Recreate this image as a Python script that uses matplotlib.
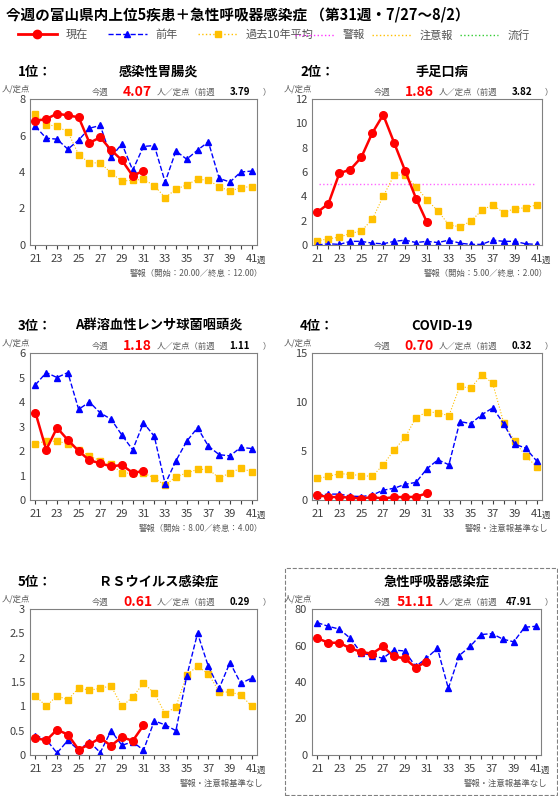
import matplotlib
matplotlib.use('Agg')
import matplotlib.pyplot as plt
from matplotlib.lines import Line2D
from matplotlib.patches import Rectangle

plt.rcParams['font.family'] = ['Noto Sans CJK JP', 'DejaVu Sans']

weeks = list(range(21, 42))
cur_weeks = list(range(21, 32))

titles = ['感染性胃腸炎', '手足口病', 'A群溶血性レンサ球菌咽頭炎', 'COVID-19', 'ＲＳウイルス感染症', '急性呼吸器感染症']
ranks = ['1位：', '2位：', '3位：', '4位：', '5位：', '']
this_week = ['4.07', '1.86', '1.18', '0.70', '0.61', '51.11']
last_week = ['3.79', '3.82', '1.11', '0.32', '0.29', '47.91']
notes = ['警報（開始：20.00／終息：12.00）', '警報（開始：5.00／終息：2.00）', '警報（開始：8.00／終息：4.00）',
         '警報・注意報基準なし', '警報・注意報基準なし', '警報・注意報基準なし']
ymax = [8, 12, 6, 15, 3, 80]
ystep = [2, 2, 1, 5, 0.5, 20]
alarm = [None, 5.0, None, None, None, None]

cur = [
    [6.8, 6.9, 7.2, 7.1, 7.0, 5.6, 5.9, 5.2, 4.65, 3.79, 4.07],
    [2.7, 3.4, 5.9, 6.2, 7.2, 9.2, 10.7, 8.4, 6.1, 3.82, 1.86],
    [3.57, 2.05, 2.95, 2.45, 2.0, 1.62, 1.5, 1.37, 1.43, 1.11, 1.18],
    [0.5, 0.3, 0.3, 0.25, 0.15, 0.3, 0.15, 0.3, 0.3, 0.32, 0.70],
    [0.35, 0.3, 0.52, 0.42, 0.11, 0.22, 0.35, 0.19, 0.37, 0.29, 0.61],
    [64, 61.5, 61.5, 58.5, 56.5, 55.5, 59.5, 54, 53, 47.91, 51.11],
]
prev = [
    [6.5, 5.85, 5.8, 5.25, 5.75, 6.4, 6.55, 4.8, 5.55, 4.1, 5.4, 5.45, 3.45, 5.15, 4.7, 5.2, 5.65, 3.65, 3.45, 4.0, 4.05],
    [0.0, 0.1, 0.05, 0.3, 0.3, 0.15, 0.1, 0.3, 0.4, 0.2, 0.3, 0.2, 0.4, 0.15, 0.05, 0.05, 0.4, 0.3, 0.3, 0.1, 0.05],
    [4.7, 5.2, 5.0, 5.2, 3.7, 4.0, 3.55, 3.3, 2.65, 2.05, 3.15, 2.6, 0.65, 1.6, 2.4, 2.95, 2.2, 1.85, 1.8, 2.15, 2.1],
    [0.5, 0.6, 0.6, 0.4, 0.35, 0.5, 1.0, 1.2, 1.6, 1.8, 3.2, 4.1, 3.6, 8.0, 7.8, 8.7, 9.4, 7.8, 5.7, 5.3, 4.0],
    [0.4, 0.32, 0.04, 0.3, 0.1, 0.27, 0.05, 0.5, 0.2, 0.27, 0.1, 0.7, 0.62, 0.5, 1.62, 2.5, 1.82, 1.37, 1.9, 1.47, 1.58],
    [72.5, 70.5, 69, 64, 56, 54.5, 53, 57.5, 57, 48.5, 53, 58.5, 36.5, 54.5, 59.5, 66, 66.5, 63.5, 62, 70, 70.5],
]
avg10 = [
    [7.2, 6.6, 6.5, 6.2, 4.95, 4.5, 4.5, 3.95, 3.5, 3.55, 3.6, 3.25, 2.6, 3.05, 3.3, 3.6, 3.55, 3.2, 2.95, 3.15, 3.2],
    [0.35, 0.5, 0.65, 0.95, 1.15, 2.1, 4.0, 5.75, 5.75, 4.8, 3.7, 2.8, 1.65, 1.5, 1.95, 2.85, 3.3, 2.65, 3.0, 3.05, 3.3],
    [2.3, 2.4, 2.4, 2.3, 2.05, 1.8, 1.6, 1.45, 1.1, 1.1, 1.1, 0.9, 0.6, 0.95, 1.1, 1.25, 1.25, 0.9, 1.1, 1.3, 1.15],
    [2.2, 2.4, 2.7, 2.6, 2.5, 2.4, 3.6, 5.1, 6.4, 8.4, 9.0, 8.9, 8.6, 11.6, 11.4, 12.8, 11.9, 7.9, 6.0, 4.5, 3.4],
    [1.22, 1.0, 1.22, 1.13, 1.38, 1.33, 1.37, 1.42, 1.0, 1.19, 1.48, 1.27, 0.85, 0.99, 1.65, 1.82, 1.67, 1.3, 1.29, 1.24, 1.0],
    None,
]

W, H = 558, 796
fig = plt.figure(figsize=(W / 100, H / 100), dpi=100)

# panel boxes in pixels: left, top, right, bottom
boxes = [(30, 99, 257, 245), (312, 99, 542, 245),
         (30, 353, 257, 500), (312, 353, 542, 500),
         (30, 609, 257, 755), (312, 609, 541, 755)]

def fx(x): return x / W
def fy(y): return 1 - y / H

fig.text(fx(6), fy(14), '今週の富山県内上位5疾患＋急性呼吸器感染症 （第31週・7/27～8/2）',
         fontsize=10.5, fontweight='bold', va='center')

# legend row
leg = [
    (Line2D([], [], color='red', lw=2, marker='o', ms=6), '現在'),
    (Line2D([], [], color='blue', lw=1, ls='--', marker='^', ms=5), '前年'),
    (Line2D([], [], color='#ffc000', lw=1, ls=':', marker='s', ms=5), '過去10年平均'),
]
fig.legend([h for h, _ in leg], [l for _, l in leg], loc='center left',
           bbox_to_anchor=(fx(8), fy(35)), ncol=3, frameon=False, fontsize=8,
           handlelength=3.5, columnspacing=1.8, labelcolor='#555555')
leg2 = [
    (Line2D([], [], color='#ff33ff', lw=1, ls=':'), '警報'),
    (Line2D([], [], color='#ffc000', lw=1, ls=':'), '注意報'),
    (Line2D([], [], color='#33cc33', lw=1, ls=':'), '流行'),
]
fig.legend([h for h, _ in leg2], [l for _, l in leg2], loc='center left',
           bbox_to_anchor=(fx(285), fy(35)), ncol=3, frameon=False, fontsize=8,
           handlelength=3.5, columnspacing=0.6, labelcolor='#555555')

for i, (l, t, r, b) in enumerate(boxes):
    ax = fig.add_axes([fx(l), fy(b), (r - l) / W, (b - t) / H])
    ax.plot(weeks, prev[i], color='blue', lw=1, ls='--', marker='^', ms=4.5, zorder=2)
    if avg10[i] is not None:
        ax.plot(weeks, avg10[i], color='#ffc000', lw=0.8, ls=':', marker='s', ms=3.8, zorder=1)
    if alarm[i] is not None:
        ax.axhline(alarm[i], xmin=0.03, xmax=0.97, color='#ff66ff', lw=1, ls=':', zorder=0)
    ax.plot(cur_weeks, cur[i], color='red', lw=1.8, marker='o', ms=5.5, zorder=3)
    ax.set_xlim(20.5, 41.5)
    ax.set_ylim(0, ymax[i])
    ax.set_xticks(weeks)
    ax.set_xticklabels([str(w) if w % 2 == 1 else '' for w in weeks])
    yt = [k * ystep[i] for k in range(int(round(ymax[i] / ystep[i])) + 1)]
    ax.set_yticks(yt)
    ax.set_yticklabels(['%g' % v for v in yt])
    ax.tick_params(labelsize=8, colors='#404040', length=3, direction='out')
    ax.tick_params(axis='y', length=0)
    for s in ax.spines.values():
        s.set_color('#808080')
    ax.text(1.0, -0.075, '週', transform=ax.transAxes, fontsize=6, color='#404040', va='top')

    cx = (l + r) / 2
    if ranks[i]:
        fig.text(fx(l - 12), fy(t - 27), ranks[i], fontsize=9.5, fontweight='bold', va='center')
        fig.text(fx(cx + 15), fy(t - 27), titles[i], fontsize=9.5, fontweight='bold', va='center', ha='center')
    else:
        fig.text(fx(cx + 10), fy(t - 27), titles[i], fontsize=9.5, fontweight='bold', va='center', ha='center')
    fig.text(fx(l - 28), fy(t - 10), '人/定点', fontsize=6, color='#595959', va='center')
    fig.text(fx(l + 62), fy(t - 7), '今週', fontsize=6, color='#595959', va='center')
    fig.text(fx(l + 122), fy(t - 7), this_week[i], fontsize=10, color='red', fontweight='bold',
             va='center', ha='right')
    fig.text(fx(l + 127), fy(t - 7), '人／定点（前週', fontsize=6, color='#595959', va='center')
    fig.text(fx(l + 220), fy(t - 7), last_week[i], fontsize=7, color='black', fontweight='bold',
             va='center', ha='right')
    fig.text(fx(l + 233), fy(t - 7), '）', fontsize=6, color='#595959', va='center')
    fig.text(fx(r + 6), fy(b + 28), notes[i], fontsize=6, color='#595959', va='center', ha='right')

# dashed frame around the last panel
fig.patches.append(Rectangle((fx(285), fy(795)), (557 - 285) / W, (795 - 568) / H,
                             transform=fig.transFigure, fill=False, ls='--', lw=0.8,
                             edgecolor='#808080'))

fig.savefig('out.png', dpi=100, facecolor='white')
